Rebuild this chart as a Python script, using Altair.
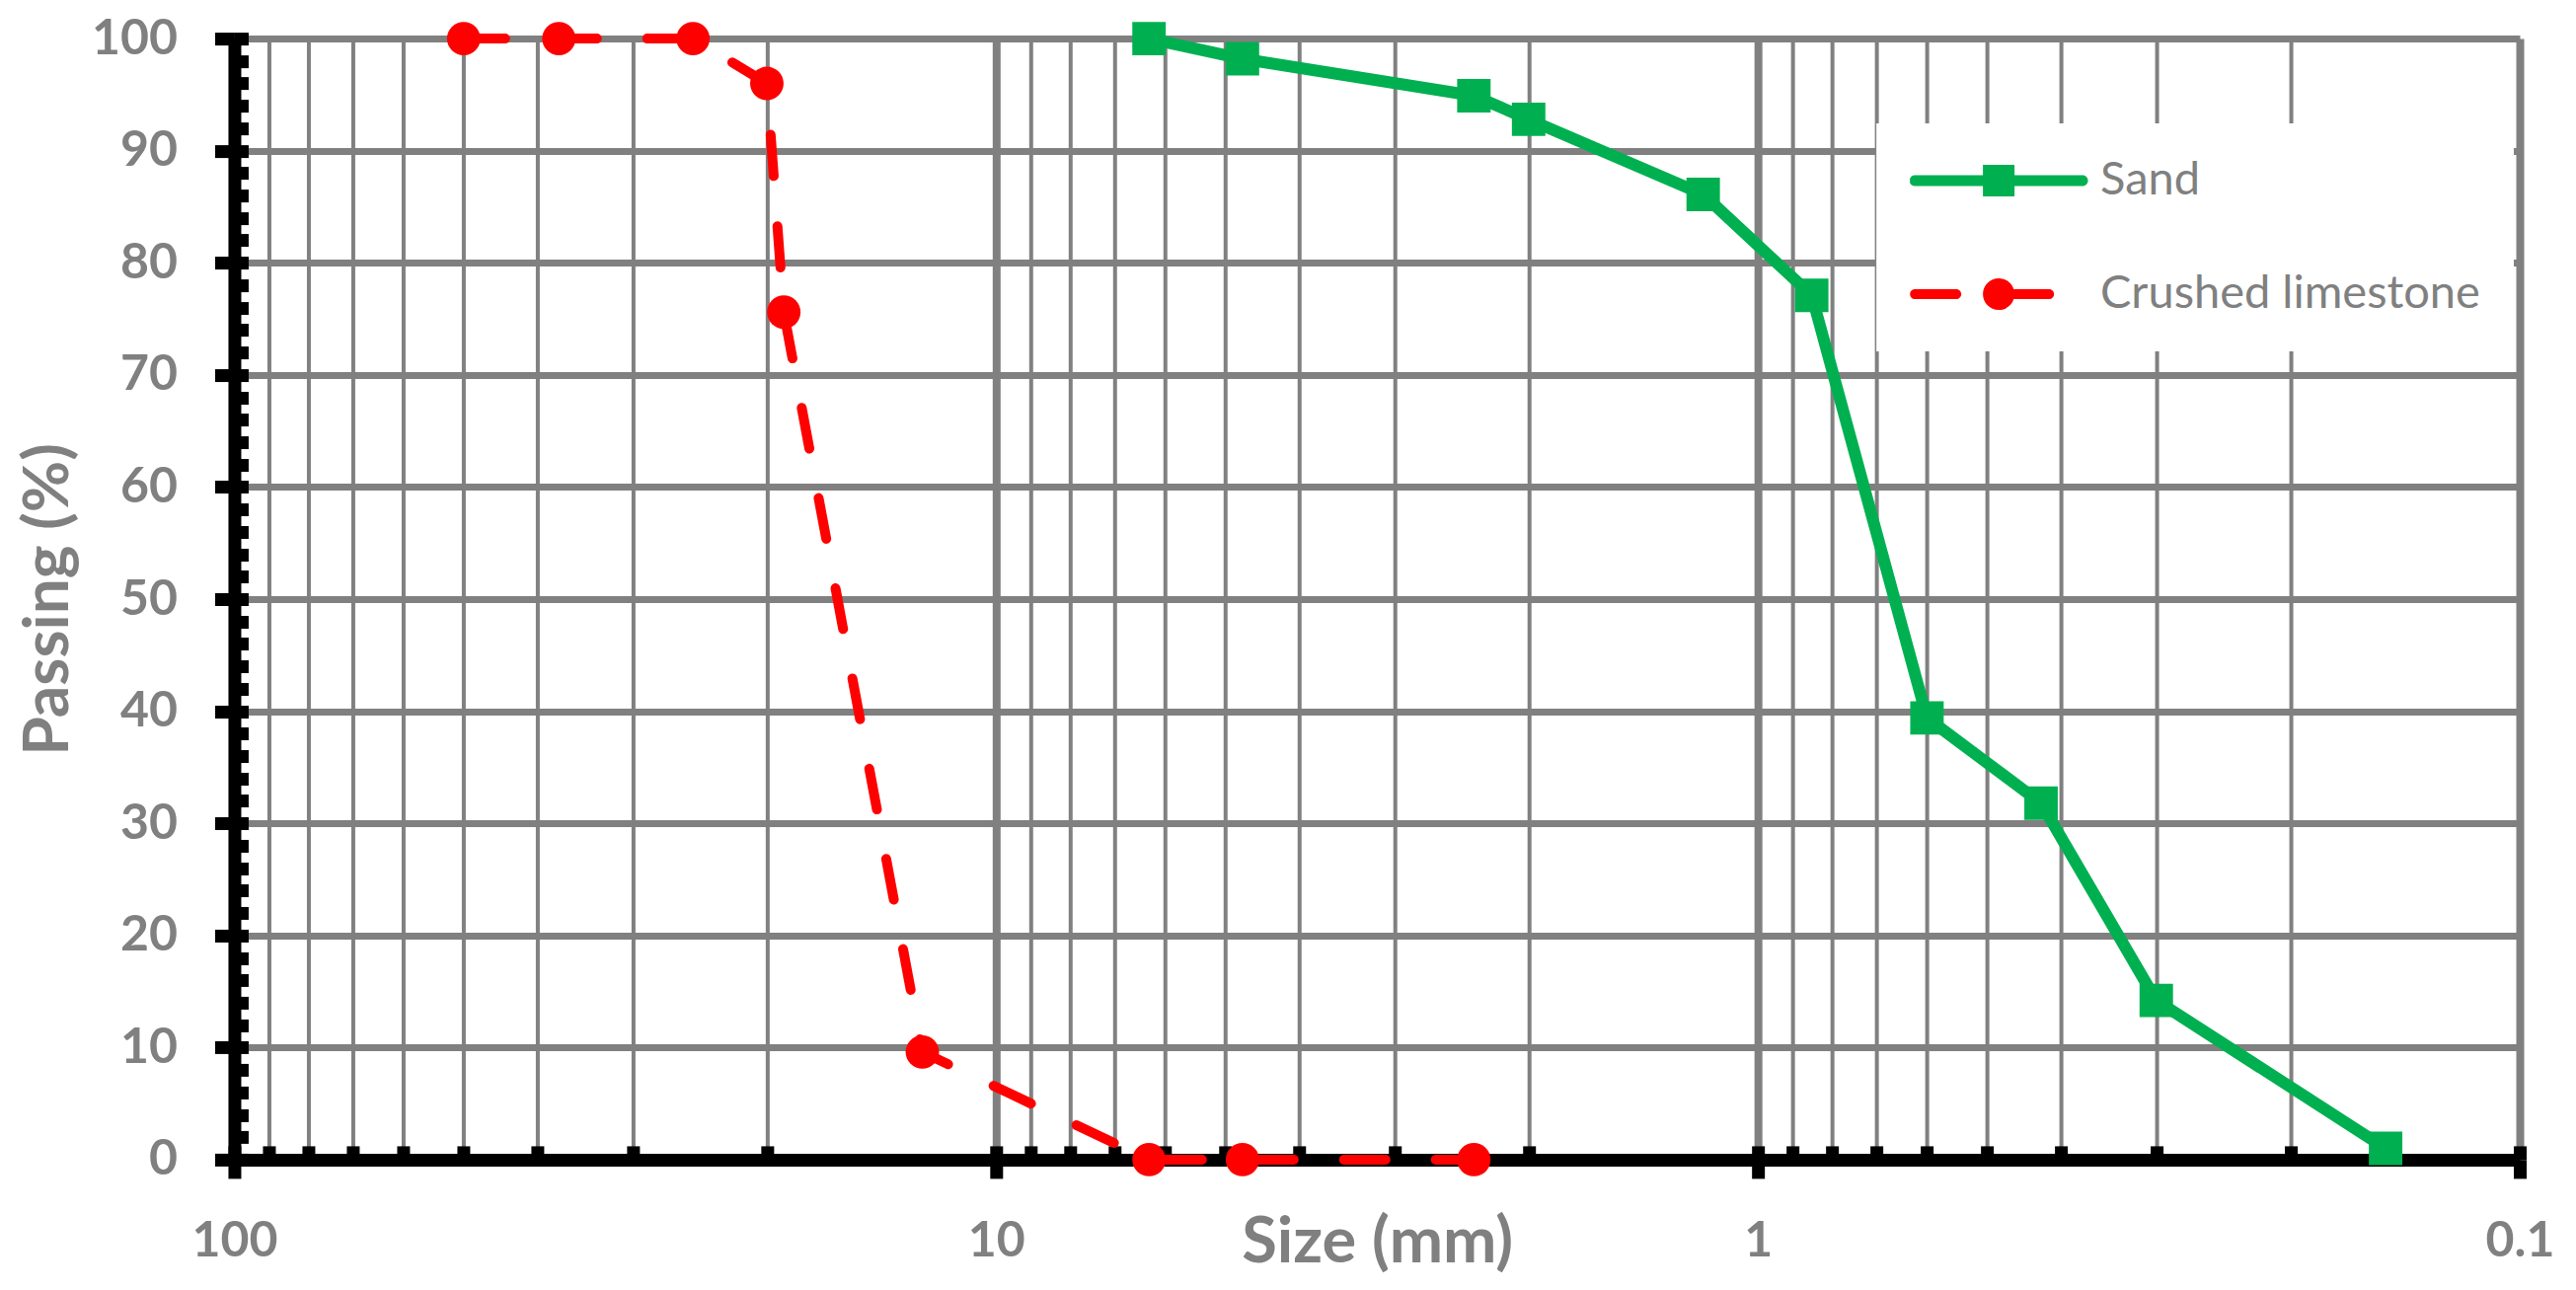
import altair as alt
import pandas as pd

# ---- data ----
sand_size = [6.3, 4.75, 2.36, 2.0, 1.18, 0.85, 0.6, 0.425, 0.3, 0.15]
sand_pass = [100, 98.2, 94.9, 92.8, 86.1, 77.1, 39.4, 31.8, 14.2, 1.0]
lime_size = [50, 37.5, 25, 20, 19, 12.5, 6.3, 4.75, 2.36]
lime_pass = [100, 100, 100, 96, 75.6, 9.6, 0, 0, 0]
series_names = ["Sand", "Crushed limestone"]
series_colors = ["#00B050", "#FF0000"]

x_major = [100, 10, 1, 0.1]
x_minor = [90, 80, 70, 60, 50, 40, 30, 20,
           9, 8, 7, 6, 5, 4, 3, 2,
           0.9, 0.8, 0.7, 0.6, 0.5, 0.4, 0.3, 0.2]
y_major = [0, 10, 20, 30, 40, 50, 60, 70, 80, 90, 100]
y_minor = list(range(0, 101, 2))

sand = pd.DataFrame({"size": sand_size, "passing": sand_pass, "series": series_names[0]})
lime = pd.DataFrame({"size": lime_size, "passing": lime_pass, "series": series_names[1]})
both = pd.concat([sand, lime], ignore_index=True)

W, H = 2316, 1136
GRAY = "#808080"
FONT = "Lato"

xscale = alt.Scale(type="log", domain=[0.1, 100], reverse=True, nice=False)
yscale = alt.Scale(domain=[0, 100], nice=False)

ax_x_main = alt.Axis(orient="bottom", values=x_major, format="~g",
                     grid=True, gridColor=GRAY, gridWidth=8, gridOpacity=1,
                     domain=True, domainColor="black", domainWidth=13,
                     ticks=True, tickColor="black", tickWidth=13, tickSize=19,
                     labelFont=FONT, labelFontSize=50, labelFontWeight="bold",
                     labelColor=GRAY, labelPadding=39, labelFlush=False,
                     labelOverlap=False,
                     title="Size (mm)", titleFont=FONT, titleFontSize=65,
                     titleFontWeight="bold", titleColor=GRAY, titleY=104,
                     titleBaseline="alphabetic")
ax_y_main = alt.Axis(orient="left", values=y_major,
                     grid=True, gridColor=GRAY, gridWidth=7, gridOpacity=1,
                     domain=True, domainColor="black", domainWidth=13,
                     ticks=True, tickColor="black", tickWidth=13, tickSize=20,
                     labelFont=FONT, labelFontSize=50, labelFontWeight="bold",
                     labelColor=GRAY, labelPadding=38, labelFlush=False,
                     labelOverlap=False,
                     title="Passing (%)", titleFont=FONT, titleFontSize=64,
                     titleFontWeight="bold", titleColor=GRAY, titleAngle=270,
                     titleX=-188, titleY=H / 2, titleBaseline="middle",
                     titleAlign="center")
ax_x_minor = alt.Axis(orient="bottom", values=x_minor, grid=True, gridColor=GRAY,
                      gridWidth=4, gridOpacity=1, ticks=False, labels=False,
                      domain=False, title=None)
ax_x_in = alt.Axis(orient="bottom", values=x_major + x_minor, offset=-14,
                   ticks=True, tickColor="black", tickWidth=13, tickSize=14,
                   labels=False, domain=False, grid=False, title=None)
ax_y_in = alt.Axis(orient="left", values=y_minor, offset=-14,
                   ticks=True, tickColor="black", tickWidth=13, tickSize=14,
                   labels=False, domain=False, grid=False, title=None)

SAND_PATH = ("M-0.944,-0.061 H0.944 A0.061,0.061 0 0 1 0.944,0.061 H-0.944 "
             "A0.061,0.061 0 0 1 -0.944,-0.061 Z "
             "M-0.178,-0.178 H0.178 V0.178 H-0.178 Z")
LIME_PATH = ("M-0.944,-0.056 H-0.478 A0.056,0.056 0 0 1 -0.478,0.056 H-0.944 "
             "A0.056,0.056 0 0 1 -0.944,-0.056 Z "
             "M0,-0.056 H0.567 A0.056,0.056 0 0 1 0.567,0.056 H0 Z "
             "M-0.178,0 A0.178,0.178 0 1 1 0.178,0 A0.178,0.178 0 1 1 -0.178,0 Z")

legend = alt.Legend(title=None, orient="none", legendX=1664, legendY=86,
                    fillColor="white", padding=34, symbolSize=32400,
                    symbolStrokeWidth=0, symbolOpacity=1, clipHeight=48,
                    labelFont=FONT, labelFontSize=47, labelLimit=0,
                    labelColor=GRAY, labelOffset=13, rowPadding=67,
                    symbolType={"expr": "datum.value === 'Sand' ? '" + SAND_PATH +
                                "' : '" + LIME_PATH + "'"})

lime_line = alt.Chart(lime).mark_line(
    color="#FF0000", strokeWidth=10, strokeDash=[42, 51], strokeCap="round"
).encode(
    x=alt.X("size:Q", scale=xscale, axis=ax_x_main),
    y=alt.Y("passing:Q", scale=yscale, axis=ax_y_main),
)

sand_line = alt.Chart(sand).mark_line(
    color="#00B050", strokeWidth=12, strokeJoin="round"
).encode(
    x=alt.X("size:Q", scale=xscale, axis=ax_x_minor),
    y=alt.Y("passing:Q", scale=yscale, axis=None),
)

lime_pts = alt.Chart(lime).mark_point(
    filled=True, opacity=1, size=1150, shape="circle", color="#FF0000", strokeWidth=0
).encode(
    x=alt.X("size:Q", scale=xscale, axis=ax_x_in),
    y=alt.Y("passing:Q", scale=yscale, axis=ax_y_in),
)

sand_pts = alt.Chart(sand).mark_point(
    filled=True, opacity=1, size=1150, shape="square", color="#00B050", strokeWidth=0
).encode(
    x=alt.X("size:Q", scale=xscale, axis=None),
    y=alt.Y("passing:Q", scale=yscale, axis=None),
)

# carrier of the legend (invisible marks, visible legend)
legend_layer = alt.Chart(both).mark_point(filled=True, opacity=0).encode(
    x=alt.X("size:Q", scale=xscale, axis=None),
    y=alt.Y("passing:Q", scale=yscale, axis=None),
    color=alt.Color("series:N", scale=alt.Scale(domain=series_names, range=series_colors),
                    legend=legend),
)

chart = alt.layer(lime_line, sand_line, lime_pts, sand_pts, legend_layer).resolve_axis(
    x="independent", y="independent"
).properties(
    width=W, height=H,
    autosize=alt.AutoSizeParams(type="none"),
    padding={"left": 229.5, "top": 31, "right": 49, "bottom": 123},
    background="white",
).configure_view(stroke=None)

chart.save("out.html", embed_options={"renderer": "svg", "actions": False})
